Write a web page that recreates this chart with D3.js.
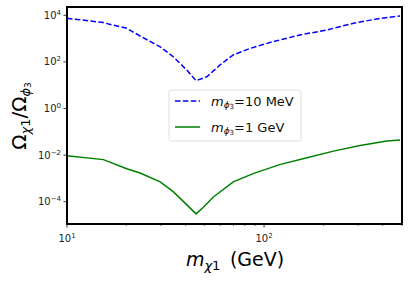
<!DOCTYPE html>
<html>
<head>
<meta charset="utf-8">
<script src="https://d3js.org/d3.v7.min.js"></script>
<style>
  body { margin: 0; background: #fff; }
  svg { font-family: 'DejaVu Sans', sans-serif; }
</style>
</head>
<body>
<div id="chart"></div>
<script>
  // data
  var massLight = [10, 15, 20.1, 23.5, 29.7, 34.6, 40.5, 45.2, 51.2, 59.8, 69.8, 85, 111, 152, 208, 284, 388, 490];
  var omegaLight = [7440, 5000, 2770, 1290, 445, 167, 45, 15.6, 23, 74, 200, 380, 740, 1430, 2340, 4550, 7400, 9300];
  var massHeavy = [10, 15.3, 20.1, 23.5, 29.7, 34.6, 45.2, 49.2, 55.3, 69.8, 88, 120, 165, 225, 307, 420, 490];
  var omegaHeavy = [0.0094, 0.0064, 0.0026, 1.71e-3, 7.1e-4, 2.7e-4, 3.0e-5, 5.8e-5, 1.6e-4, 7.1e-4, 1.6e-3, 3.9e-3, 7.7e-3, 0.0148, 0.0257, 0.040, 0.044];
  var seriesLabels = ["10 MeV", "1 GeV"];
  var xTickExp = [1, 2];
  var yTickExp = [-4, -2, 0, 2, 4];

  var W = 409, H = 282;
  var margin = {top: 7, right: 7, bottom: 58, left: 67};
  var width = W - margin.left - margin.right,
      height = H - margin.top - margin.bottom;

  var svg = d3.select("#chart").append("svg")
    .attr("width", W).attr("height", H);
  var g = svg.append("g")
    .attr("transform", "translate(" + margin.left + "," + margin.top + ")");

  var x = d3.scaleLog().domain([10, Math.pow(10, 2.7)]).range([0, width]);
  var y = d3.scaleLog().domain([Math.pow(10, -4.957), Math.pow(10, 4.356)]).range([height, 0]);

  // minor x ticks
  var minor = [];
  [10, 100].forEach(function (d) {
    for (var k = 2; k <= 9; k++) if (d * k <= x.domain()[1]) minor.push(d * k);
  });
  g.append("g").selectAll("line").data(minor).enter().append("line")
    .attr("x1", d => x(d)).attr("x2", d => x(d))
    .attr("y1", height).attr("y2", height + 2)
    .attr("stroke", "#000").attr("stroke-width", 0.6);

  // major x ticks
  var xt = g.append("g").selectAll("g").data(xTickExp).enter().append("g")
    .attr("transform", d => "translate(" + x(Math.pow(10, d)) + "," + height + ")");
  xt.append("line").attr("y2", 3.5).attr("stroke", "#000").attr("stroke-width", 0.8);
  var xtt = xt.append("text").attr("y", 18).attr("text-anchor", "middle")
    .attr("font-size", 10).attr("fill", "#222");
  xtt.append("tspan").text("10");
  xtt.append("tspan").attr("dy", -4).attr("font-size", 7).text(d => d);

  // y ticks
  var yt = g.append("g").selectAll("g").data(yTickExp).enter().append("g")
    .attr("transform", d => "translate(0," + y(Math.pow(10, d)) + ")");
  yt.append("line").attr("x2", -3.5).attr("stroke", "#000").attr("stroke-width", 0.8);
  var ytt = yt.append("text").attr("x", -6).attr("y", 3.5).attr("text-anchor", "end")
    .attr("font-size", 10).attr("fill", "#222");
  ytt.append("tspan").text("10");
  ytt.append("tspan").attr("dy", -4).attr("font-size", 7).text(d => d < 0 ? "\u2212" + (-d) : d);

  // lines
  var line = d3.line().x(d => x(d[0])).y(d => y(d[1]));
  g.append("path")
    .datum(massLight.map((m, i) => [m, omegaLight[i]]))
    .attr("d", line).attr("fill", "none")
    .attr("stroke", "#0000ff").attr("stroke-width", 1.5)
    .attr("stroke-dasharray", "5.5,2.4");
  g.append("path")
    .datum(massHeavy.map((m, i) => [m, omegaHeavy[i]]))
    .attr("d", line).attr("fill", "none")
    .attr("stroke", "#008000").attr("stroke-width", 1.5);

  // frame
  g.append("rect").attr("width", width).attr("height", height)
    .attr("fill", "none").attr("stroke", "#000").attr("stroke-width", 2);

  // legend
  var leg = g.append("g").attr("transform", "translate(102,83)");
  leg.append("rect").attr("width", 132).attr("height", 51).attr("rx", 2.5)
    .attr("fill", "#fff").attr("stroke", "#d6d6d6").attr("stroke-width", 0.8);
  var styles = [{c: "#0000ff", dash: "5.5,2.4"}, {c: "#008000", dash: null}];
  seriesLabels.forEach(function (lab, i) {
    var row = leg.append("g").attr("transform", "translate(0," + (11 + i * 26) + ")");
    row.append("line").attr("x1", 6).attr("x2", 31).attr("y1", 0).attr("y2", 0)
      .attr("stroke", styles[i].c).attr("stroke-width", 1.5)
      .attr("stroke-dasharray", styles[i].dash);
    var t = row.append("text").attr("x", 42).attr("y", 4.5).attr("font-size", 13).attr("fill", "#111");
    t.append("tspan").attr("font-style", "italic").text("m");
    t.append("tspan").attr("font-style", "italic").attr("font-size", 9).attr("dy", 2.5).text("\u03d5");
    t.append("tspan").attr("font-size", 7).attr("dy", 0.5).text("3");
    t.append("tspan").attr("dy", -3).text("=" + lab);
  });

  // x label
  var xl = svg.append("text").attr("x", 235).attr("y", 266).attr("text-anchor", "middle")
    .attr("font-size", 19).attr("fill", "#000");
  xl.append("tspan").attr("font-style", "italic").text("m");
  xl.append("tspan").attr("font-style", "italic").attr("font-size", 13).attr("dy", 4).text("\u03c7");
  xl.append("tspan").attr("font-size", 13).text("1");
  xl.append("tspan").attr("dy", -4).text("\u2002(GeV)");

  // y label
  var yl = svg.append("text").attr("transform", "translate(26,116) rotate(-90)")
    .attr("text-anchor", "middle").attr("font-size", 20).attr("fill", "#000");
  yl.append("tspan").text("\u03a9");
  yl.append("tspan").attr("font-style", "italic").attr("font-size", 13).attr("dy", 4).text("\u03c7");
  yl.append("tspan").attr("font-size", 13).text("1");
  yl.append("tspan").attr("dy", -4).text("/\u03a9");
  yl.append("tspan").attr("font-style", "italic").attr("font-size", 13).attr("dy", 4).text("\u03d5");
  yl.append("tspan").attr("font-size", 9).attr("dy", 1).text("3");
</script>
</body>
</html>
